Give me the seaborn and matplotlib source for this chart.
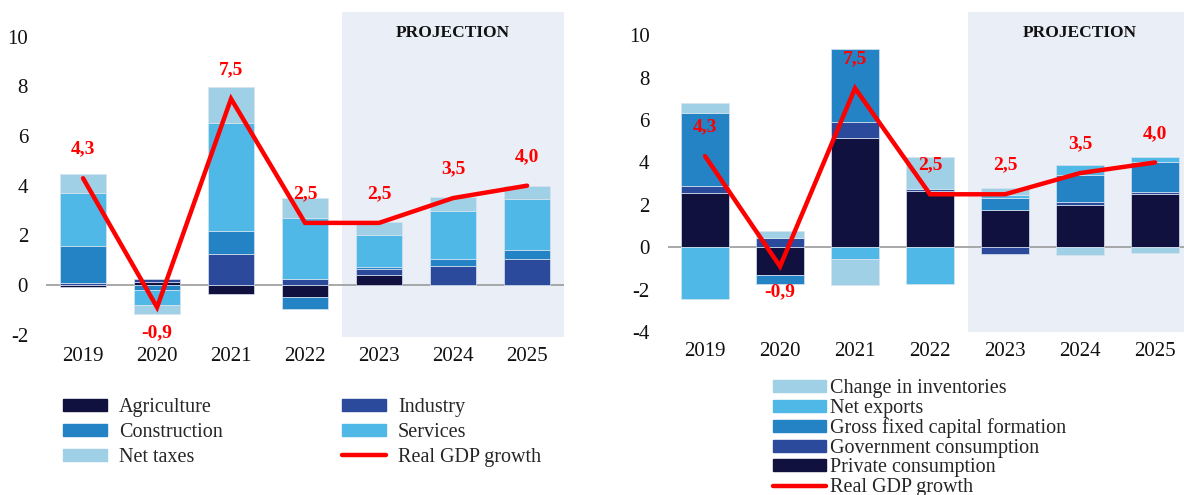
import matplotlib
matplotlib.use("Agg")
import matplotlib.pyplot as plt
import numpy as np
import seaborn as sns
from matplotlib.patches import Patch
from matplotlib.lines import Line2D

years = ["2019", "2020", "2021", "2022", "2023", "2024", "2025"]
gdp = [4.3, -0.9, 7.5, 2.5, 2.5, 3.5, 4.0]
gdp_labels = ["4,3", "-0,9", "7,5", "2,5", "2,5", "3,5", "4,0"]

# supply side (left)
agriculture = [-0.1, 0.1, -0.38, -0.5, 0.4, 0.0, 0.0]
industry = [0.07, 0.15, 1.24, 0.24, 0.24, 0.78, 1.06]
construction = [1.48, -0.2, 0.95, -0.48, 0.07, 0.27, 0.35]
services = [2.17, -0.6, 4.35, 2.47, 1.32, 1.93, 2.05]
net_taxes = [0.74, -0.35, 1.43, 0.81, 0.51, 0.56, 0.53]

# demand side (right)
private_cons = [2.56, -1.29, 5.17, 2.66, 1.76, 2.01, 2.53]
gov_cons = [0.32, 0.46, 0.76, 0.08, -0.3, 0.13, 0.1]
gfcf = [3.44, -0.42, 3.41, 0.0, 0.57, 1.26, 1.39]
net_exports = [-2.44, 0.0, -0.57, -1.71, 0.12, 0.47, 0.26]
inventories = [0.47, 0.33, -1.19, 1.54, 0.35, -0.35, -0.25]

c_dark = "#111140"
c_navy = "#2b4a9b"
c_mid = "#2383c4"
c_sky = "#4fb8e6"
c_pale = "#9fd0e6"
c_red = "#ff0000"
c_shade = "#eaeef7"

sns.set_theme(style="white")
plt.rcParams["font.family"] = ["Liberation Serif", "DejaVu Serif"]

fig = plt.figure(figsize=(11.84, 4.95), dpi=100)
ax1 = fig.add_axes([0.0389, 0.319, 0.4375, 0.657])
ax2 = fig.add_axes([0.5638, 0.329, 0.4434, 0.647])


def stacked(ax, series, colors):
    x = np.arange(len(years))
    pos = np.zeros(len(years))
    neg = np.zeros(len(years))
    for vals, col in zip(series, colors):
        v = np.array(vals, dtype=float)
        bottom = np.where(v >= 0, pos, neg)
        ax.bar(x, v, bottom=bottom, width=0.63, color=col,
               edgecolor="#d9e3ef", linewidth=0.5, zorder=2)
        pos = pos + np.where(v >= 0, v, 0)
        neg = neg + np.where(v < 0, v, 0)


def decorate(ax, ylim, yticks):
    ax.axvspan(3.5, 6.5, color=c_shade, zorder=0, lw=0)
    ax.axhline(0, color="#9a9a9a", lw=1.2, zorder=1)
    x = np.arange(len(years))
    sns.lineplot(x=x, y=gdp, ax=ax, color=c_red, lw=3.2, zorder=4,
                 solid_capstyle="round", solid_joinstyle="miter")
    for xi, yi, lab in zip(x, gdp, gdp_labels):
        off = -18 if yi < 0 else 21
        ax.annotate(lab, (xi, yi), xytext=(0, off), textcoords="offset points",
                    ha="center", va="center", color=c_red, fontsize=14,
                    fontweight="bold", zorder=5)
    ax.text(5.0, ylim[1] - 0.5 * (ylim[1] - ylim[0]) / 12, "PROJECTION",
            ha="center", va="top", fontsize=12.5, fontweight="bold", color="#111111")
    ax.set_xlim(-0.5, 6.5)
    ax.set_ylim(*ylim)
    ax.set_yticks(yticks)
    ax.set_yticklabels([str(t) for t in yticks])
    ax.set_xticks(x)
    ax.set_xticklabels(years)
    ax.tick_params(axis="both", length=0, labelsize=15, colors="#111111")
    ax.tick_params(axis="y", pad=13)
    ax.tick_params(axis="x", pad=7)
    for s in ax.spines.values():
        s.set_visible(False)
    ax.set_facecolor("none")


stacked(ax1, [agriculture, industry, construction, services, net_taxes],
        [c_dark, c_navy, c_mid, c_sky, c_pale])
decorate(ax1, (-2.1, 11.0), list(range(-2, 11, 2)))

stacked(ax2, [private_cons, gov_cons, gfcf, net_exports, inventories],
        [c_dark, c_navy, c_mid, c_sky, c_pale])
decorate(ax2, (-4.0, 11.1), list(range(-4, 11, 2)))

red_line = Line2D([0], [0], color=c_red, lw=3.2, solid_capstyle="round")
left_handles = [Patch(color=c_dark), Patch(color=c_mid), Patch(color=c_pale),
                Patch(color=c_navy), Patch(color=c_sky), red_line]
left_labels = ["Agriculture", "Construction", "Net taxes",
               "Industry", "Services", "Real GDP growth"]
fig.legend(left_handles, left_labels, loc="upper left",
           bbox_to_anchor=(0.053, 0.196), ncol=2, frameon=False,
           fontsize=14.5, handlelength=2.2, handleheight=0.55,
           handletextpad=0.6, labelspacing=0.3, columnspacing=5.9,
           borderpad=0, borderaxespad=0)

right_handles = [Patch(color=c_pale), Patch(color=c_sky), Patch(color=c_mid),
                 Patch(color=c_navy), Patch(color=c_dark), red_line]
right_labels = ["Change in inventories", "Net exports",
                "Gross fixed capital formation", "Government consumption",
                "Private consumption", "Real GDP growth"]
fig.legend(right_handles, right_labels, loc="upper left",
           bbox_to_anchor=(0.653, 0.234), ncol=1, frameon=False,
           fontsize=14.5, handlelength=2.6, handleheight=0.55,
           handletextpad=0.2, labelspacing=0.03,
           borderpad=0, borderaxespad=0)

fig.savefig("out.png", dpi=100)
